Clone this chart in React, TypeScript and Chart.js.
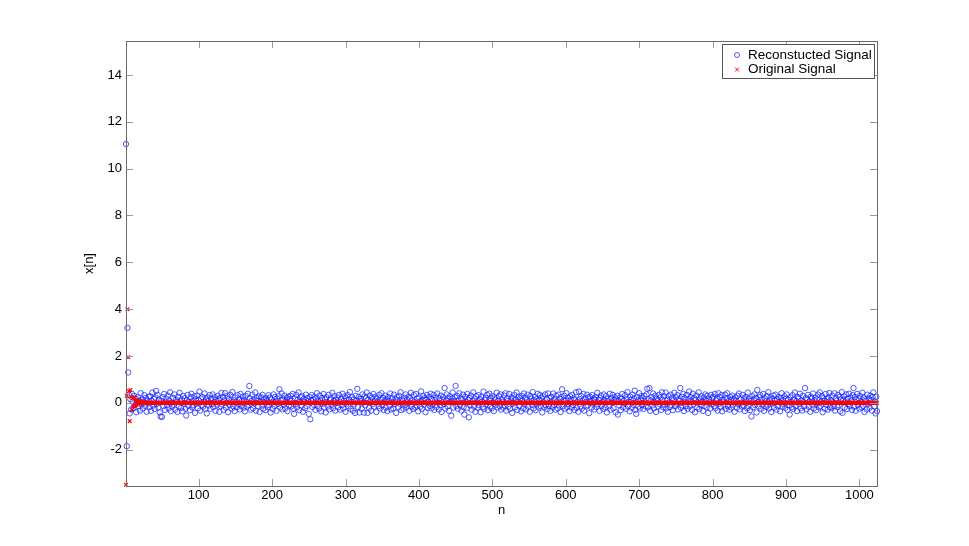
import React, { useEffect, useRef } from 'react';
import { Chart, registerables } from 'chart.js';

Chart.register(...registerables);

// n = 1 .. 1024
const reconstructedSignal: number[] = [
  11.05,-1.85,3.2,1.3,0.35,-0.45,0.15,-0.28,0.39,0.06,-0.23,0.3,-0.1,0.19,-0.4,0.03,0.25,-0.15,0.1,-0.33,0.41,-0.06,0.14,-0.24,0.05,0.33,-0.13,0.21,-0.38,0.11,-0.03,0.26,
  -0.18,0.28,-0.34,0.08,0.44,-0.11,0.16,-0.26,0.23,0.51,-0.05,0.34,-0.2,0.13,-0.41,-0.58,0.09,-0.6,0.24,-0.14,0.38,-0.3,0.04,0.18,-0.09,0.31,-0.24,0.1,0.45,-0.35,0.01,-0.16,
  0.21,-0.08,0.36,-0.29,0.13,0.03,-0.39,0.26,-0.15,0.43,0.06,-0.21,0.15,-0.36,0.29,-0.04,0.2,-0.25,-0.54,0.1,0.34,-0.13,0.05,-0.31,0.24,0.39,-0.19,0.08,-0.1,0.28,-0.43,0.16,
  -0.03,0.31,-0.23,0.11,0.48,-0.33,0.18,-0.09,0.25,-0.16,0.04,0.4,-0.26,0.14,-0.45,0.23,0.09,-0.11,0.33,-0.25,0.19,-0.05,0.36,-0.18,0.03,0.24,-0.34,0.13,-0.08,0.3,0.15,-0.38,
  0.2,-0.14,0.42,-0.06,0.25,-0.3,0.1,0.41,-0.2,0.01,0.29,-0.4,0.18,-0.1,0.34,0.06,-0.24,0.46,-0.15,0.11,-0.35,0.23,0.05,-0.19,0.33,-0.04,0.15,-0.28,0.38,-0.13,0.09,0.26,
  -0.21,0.13,-0.36,0.3,0.04,-0.16,0.39,-0.08,0.72,0.19,-0.29,0.08,0.35,-0.23,0.14,-0.03,0.44,-0.33,0.21,0.1,-0.15,0.28,-0.39,0.05,0.24,-0.11,0.34,-0.25,0.16,0.03,-0.31,0.2,
  0.11,-0.18,0.33,-0.09,0.23,-0.41,0.15,0.01,-0.26,0.36,-0.13,0.25,0.06,-0.34,0.18,-0.05,0.29,0.58,-0.2,0.1,0.4,-0.28,0.14,-0.08,0.31,-0.24,0.04,0.21,-0.35,0.26,-0.1,0.16,
  0.3,-0.15,0.09,0.38,-0.25,-0.47,0.19,-0.06,0.34,-0.19,0.13,0.45,-0.31,0.05,0.24,-0.11,0.28,-0.38,0.16,0.03,-0.23,0.35,-0.14,0.2,0.08,-0.47,0.25,-0.7,0.11,0.33,-0.18,0.14,
  -0.08,0.26,-0.3,0.18,0.41,-0.13,0.06,-0.24,0.31,0.1,-0.36,0.21,-0.04,0.38,-0.2,0.15,-0.41,0.24,0.03,-0.16,0.34,-0.28,0.11,0.19,-0.09,0.43,-0.23,0.08,0.29,-0.33,0.13,-0.01,
  0.23,-0.19,0.34,0.05,-0.29,0.16,-0.1,0.39,-0.24,0.09,0.28,-0.38,0.2,-0.03,0.33,-0.15,0.13,0.46,-0.26,0.04,0.24,-0.34,0.15,-0.06,-0.43,0.3,0.1,0.6,-0.18,0.25,-0.41,0.08,
  0.18,-0.25,0.36,0.01,-0.42,0.28,-0.11,0.2,0.44,-0.43,0.14,-0.21,0.31,0.06,-0.33,0.23,-0.05,0.38,-0.16,0.1,0.26,-0.39,0.18,0.03,-0.14,0.34,-0.24,0.13,0.41,-0.09,0.21,-0.3,
  0.05,0.31,-0.2,0.15,-0.35,0.25,0.09,-0.13,0.4,-0.28,0.19,0.04,-0.23,0.35,-0.06,0.16,-0.43,0.24,0.11,-0.18,0.3,-0.03,0.45,-0.31,0.14,0.08,-0.25,0.21,-0.1,0.36,-0.19,0.13,
  -0.04,0.26,-0.34,0.19,0.43,-0.15,0.1,-0.26,0.33,0.03,-0.2,0.38,-0.11,0.18,-0.36,0.23,0.06,-0.16,0.49,-0.25,0.13,0.29,-0.08,0.2,-0.4,0.15,0.34,-0.21,0.05,0.25,-0.13,0.39,
  -0.23,0.16,-0.06,0.34,-0.3,0.11,0.23,-0.18,0.4,0.01,-0.28,0.19,-0.1,0.31,-0.39,0.14,0.25,-0.05,0.63,-0.24,0.09,0.36,-0.15,0.2,-0.34,0.28,0.04,-0.55,0.18,0.44,-0.2,0.08,
  0.24,0.72,-0.14,0.3,-0.25,0.1,0.41,-0.09,0.19,-0.33,0.15,0.35,-0.19,-0.5,0.26,0.05,-0.23,0.38,0.13,-0.62,0.21,-0.11,0.31,-0.29,0.08,0.45,-0.16,0.18,-0.38,0.28,0.03,-0.21,
  0.33,-0.1,0.16,-0.4,0.25,0.06,-0.18,0.48,-0.26,0.13,0.21,-0.05,0.34,-0.31,0.1,0.39,-0.15,0.19,-0.24,0.29,0.01,-0.35,0.23,0.14,-0.08,0.43,-0.2,0.09,0.28,-0.14,0.36,-0.29,
  0.15,0.04,-0.21,0.31,-0.11,0.41,-0.33,0.18,0.08,-0.16,0.38,-0.25,0.11,0.24,-0.43,0.2,-0.03,0.34,-0.19,0.14,0.44,-0.3,0.05,0.26,-0.13,0.19,-0.36,0.3,0.1,-0.23,0.4,-0.06,
  0.23,-0.28,0.13,0.35,-0.16,0.06,-0.38,0.29,0.18,-0.09,0.46,-0.24,0.11,0.25,-0.31,0.15,-0.04,0.39,-0.2,0.09,0.33,-0.14,0.21,-0.41,0.28,0.03,-0.18,0.36,-0.1,0.16,-0.26,0.4,
  -0.13,0.2,-0.34,0.26,0.08,-0.19,0.4,-0.08,0.15,-0.29,0.31,0.04,-0.23,0.35,-0.11,0.18,-0.39,0.24,0.58,-0.15,0.13,0.3,-0.25,0.09,0.41,-0.18,0.21,-0.05,-0.35,0.28,0.14,-0.2,
  0.34,-0.09,0.19,-0.3,0.11,0.45,-0.21,0.05,-0.38,0.48,0.16,-0.14,0.29,-0.24,0.08,0.38,-0.33,0.15,0.03,-0.16,0.35,-0.1,0.23,-0.44,0.26,0.09,-0.2,0.33,-0.03,0.18,-0.28,0.13,
  0.25,-0.18,0.43,-0.06,0.14,-0.34,0.21,0.31,-0.13,0.04,-0.26,0.36,0.1,-0.2,0.28,-0.41,0.16,0.06,-0.15,0.39,-0.29,0.2,0.01,0.34,-0.23,0.11,0.24,-0.4,0.15,0.3,-0.5,0.08,
  -0.11,0.23,-0.31,0.16,0.38,-0.19,0.09,-0.03,0.33,-0.25,0.18,0.46,-0.14,0.05,-0.36,0.26,0.13,-0.21,0.35,-0.08,0.19,0.52,-0.3,-0.47,0.24,0.1,-0.16,0.41,-0.24,0.14,0.29,-0.1,
  0.2,-0.26,0.3,0.06,-0.15,0.36,0.6,-0.2,0.15,0.63,-0.34,0.1,0.25,-0.11,0.4,-0.23,0.04,0.31,-0.39,0.18,0.09,-0.16,0.34,-0.05,0.23,-0.3,0.45,0.13,-0.19,0.28,-0.08,0.44,
  -0.24,0.14,-0.38,0.29,0.03,-0.18,0.35,-0.09,0.21,-0.31,0.11,0.43,-0.15,0.24,-0.04,0.33,-0.28,0.16,0.08,0.63,-0.21,0.26,-0.11,0.38,-0.35,0.19,0.05,-0.14,0.34,-0.25,0.15,0.48,
  -0.16,0.25,0.09,-0.3,0.39,-0.06,0.2,-0.4,0.13,0.31,-0.2,0.03,0.45,-0.26,0.18,-0.1,0.28,0.06,-0.34,0.23,-0.13,0.36,0.11,-0.19,0.3,-0.43,0.15,0.04,-0.24,0.34,-0.05,0.2,
  0.26,-0.14,0.38,-0.23,0.1,0.18,-0.33,0.41,-0.03,0.24,-0.18,0.33,-0.36,0.13,0.05,-0.11,0.35,-0.25,0.19,0.41,-0.15,0.08,-0.29,0.25,0.14,-0.2,0.31,-0.08,0.16,-0.38,0.23,0.09,
  -0.21,0.3,-0.05,0.4,-0.28,0.15,0.01,-0.16,0.34,-0.1,0.2,-0.35,0.25,0.11,-0.23,0.44,-0.13,0.18,-0.31,0.08,-0.58,0.28,-0.19,0.13,0.36,-0.09,0.21,-0.41,0.55,0.04,-0.15,0.24,
  0.33,-0.25,0.14,-0.08,0.38,-0.34,0.19,0.06,-0.18,0.29,-0.11,0.46,-0.24,0.1,0.23,-0.39,0.16,-0.03,0.31,-0.2,0.09,0.35,-0.29,0.15,-0.14,0.25,0.05,-0.36,0.2,0.41,-0.16,0.11,
  -0.06,0.28,-0.21,0.18,0.36,-0.3,0.13,-0.1,-0.5,0.24,0.04,-0.19,0.33,-0.26,0.15,0.44,-0.13,0.08,-0.35,0.25,0.19,-0.05,0.39,-0.23,0.11,-0.33,0.3,0.03,-0.15,0.63,0.21,-0.28,
  0.14,0.34,-0.16,0.06,-0.38,0.26,0.18,-0.09,0.4,-0.24,0.1,0.23,-0.31,0.15,-0.03,0.35,-0.19,0.45,-0.13,0.05,0.29,-0.4,0.2,0.09,-0.25,0.38,-0.08,0.16,-0.29,0.24,0.42,-0.18,
  0.11,-0.23,0.31,0.03,-0.14,0.41,-0.33,0.19,0.08,-0.18,0.34,-0.1,0.25,-0.36,0.15,0.46,-0.43,0.13,0.28,-0.2,0.05,0.36,-0.26,0.18,-0.06,0.39,-0.15,0.23,0.1,-0.3,0.33,0.63,
  -0.16,0.25,-0.34,0.14,0.38,-0.09,0.2,-0.25,0.3,0.04,-0.19,0.43,-0.13,0.23,-0.39,0.15,0.09,-0.28,0.35,-0.05,0.19,-0.21,0.31,0.11,-0.33,0.25,0.45,-0.15,0.06,-0.45,0.26,-0.35,
];

// n = 1 .. 1024
const originalSignal: number[] = [
  -3.5,0.3,4.0,1.95,0.5,-0.78,0.55,0.25,-0.3,0.2,-0.15,0.22,-0.1,0.12,-0.08,0.1,0.05,-0.06,0.08,0.04,-0.04,0.05,0.03,-0.02,0.02,0.01,-0.01,0,0,0,0,0,
  0,0,0,0,0,0,0,0,0,0,0,0,0,0,0,0,0,0,0,0,0,0,0,0,0,0,0,0,0,0,0,0,
  0,0,0,0,0,0,0,0,0,0,0,0,0,0,0,0,0,0,0,0,0,0,0,0,0,0,0,0,0,0,0,0,
  0,0,0,0,0,0,0,0,0,0,0,0,0,0,0,0,0,0,0,0,0,0,0,0,0,0,0,0,0,0,0,0,
  0,0,0,0,0,0,0,0,0,0,0,0,0,0,0,0,0,0,0,0,0,0,0,0,0,0,0,0,0,0,0,0,
  0,0,0,0,0,0,0,0,0,0,0,0,0,0,0,0,0,0,0,0,0,0,0,0,0,0,0,0,0,0,0,0,
  0,0,0,0,0,0,0,0,0,0,0,0,0,0,0,0,0,0,0,0,0,0,0,0,0,0,0,0,0,0,0,0,
  0,0,0,0,0,0,0,0,0,0,0,0,0,0,0,0,0,0,0,0,0,0,0,0,0,0,0,0,0,0,0,0,
  0,0,0,0,0,0,0,0,0,0,0,0,0,0,0,0,0,0,0,0,0,0,0,0,0,0,0,0,0,0,0,0,
  0,0,0,0,0,0,0,0,0,0,0,0,0,0,0,0,0,0,0,0,0,0,0,0,0,0,0,0,0,0,0,0,
  0,0,0,0,0,0,0,0,0,0,0,0,0,0,0,0,0,0,0,0,0,0,0,0,0,0,0,0,0,0,0,0,
  0,0,0,0,0,0,0,0,0,0,0,0,0,0,0,0,0,0,0,0,0,0,0,0,0,0,0,0,0,0,0,0,
  0,0,0,0,0,0,0,0,0,0,0,0,0,0,0,0,0,0,0,0,0,0,0,0,0,0,0,0,0,0,0,0,
  0,0,0,0,0,0,0,0,0,0,0,0,0,0,0,0,0,0,0,0,0,0,0,0,0,0,0,0,0,0,0,0,
  0,0,0,0,0,0,0,0,0,0,0,0,0,0,0,0,0,0,0,0,0,0,0,0,0,0,0,0,0,0,0,0,
  0,0,0,0,0,0,0,0,0,0,0,0,0,0,0,0,0,0,0,0,0,0,0,0,0,0,0,0,0,0,0,0,
  0,0,0,0,0,0,0,0,0,0,0,0,0,0,0,0,0,0,0,0,0,0,0,0,0,0,0,0,0,0,0,0,
  0,0,0,0,0,0,0,0,0,0,0,0,0,0,0,0,0,0,0,0,0,0,0,0,0,0,0,0,0,0,0,0,
  0,0,0,0,0,0,0,0,0,0,0,0,0,0,0,0,0,0,0,0,0,0,0,0,0,0,0,0,0,0,0,0,
  0,0,0,0,0,0,0,0,0,0,0,0,0,0,0,0,0,0,0,0,0,0,0,0,0,0,0,0,0,0,0,0,
  0,0,0,0,0,0,0,0,0,0,0,0,0,0,0,0,0,0,0,0,0,0,0,0,0,0,0,0,0,0,0,0,
  0,0,0,0,0,0,0,0,0,0,0,0,0,0,0,0,0,0,0,0,0,0,0,0,0,0,0,0,0,0,0,0,
  0,0,0,0,0,0,0,0,0,0,0,0,0,0,0,0,0,0,0,0,0,0,0,0,0,0,0,0,0,0,0,0,
  0,0,0,0,0,0,0,0,0,0,0,0,0,0,0,0,0,0,0,0,0,0,0,0,0,0,0,0,0,0,0,0,
  0,0,0,0,0,0,0,0,0,0,0,0,0,0,0,0,0,0,0,0,0,0,0,0,0,0,0,0,0,0,0,0,
  0,0,0,0,0,0,0,0,0,0,0,0,0,0,0,0,0,0,0,0,0,0,0,0,0,0,0,0,0,0,0,0,
  0,0,0,0,0,0,0,0,0,0,0,0,0,0,0,0,0,0,0,0,0,0,0,0,0,0,0,0,0,0,0,0,
  0,0,0,0,0,0,0,0,0,0,0,0,0,0,0,0,0,0,0,0,0,0,0,0,0,0,0,0,0,0,0,0,
  0,0,0,0,0,0,0,0,0,0,0,0,0,0,0,0,0,0,0,0,0,0,0,0,0,0,0,0,0,0,0,0,
  0,0,0,0,0,0,0,0,0,0,0,0,0,0,0,0,0,0,0,0,0,0,0,0,0,0,0,0,0,0,0,0,
  0,0,0,0,0,0,0,0,0,0,0,0,0,0,0,0,0,0,0,0,0,0,0,0,0,0,0,0,0,0,0,0,
  0,0,0,0,0,0,0,0,0,0,0,0,0,0,0,0,0,0,0,0,0,0,0,0,0,0,0,0,0,0,0,0,
];

const seriesLabels = ['Reconstucted Signal', 'Original Signal'];
const xTickValues = [100, 200, 300, 400, 500, 600, 700, 800, 900, 1000];
const yTickValues = [-2, 0, 2, 4, 6, 8, 10, 12, 14];
const xRange = [1, 1024];
const yRange = [-3.55, 15.45];
const xTitle = 'n';
const yTitle = 'x[n]';

const FONT = '"Liberation Sans", Arial, Helvetica, sans-serif';
const BLUE = 'rgba(20, 40, 255, 0.85)';
const RED = 'rgb(255, 0, 0)';

const framePlugin = {
  id: 'matlabFrame',
  afterDatasetsDraw(chart: any) {
    const { ctx, chartArea: a, scales } = chart;
    const xs = scales.x;
    const ys = scales.y;
    ctx.save();
    ctx.strokeStyle = '#9a9a9a';
    ctx.lineWidth = 1;
    ctx.beginPath();
    for (const v of xTickValues) {
      const px = Math.round(xs.getPixelForValue(v)) + 0.5;
      ctx.moveTo(px, a.bottom);
      ctx.lineTo(px, a.bottom - 7);
      ctx.moveTo(px, a.top);
      ctx.lineTo(px, a.top + 7);
    }
    for (const v of yTickValues) {
      const py = Math.round(ys.getPixelForValue(v)) + 0.5;
      ctx.moveTo(a.left, py);
      ctx.lineTo(a.left + 7, py);
      ctx.moveTo(a.right, py);
      ctx.lineTo(a.right - 7, py);
    }
    ctx.stroke();
    ctx.strokeStyle = '#6a6a6a';
    ctx.strokeRect(Math.round(a.left) + 0.5, Math.round(a.top) + 0.5, Math.round(a.right - a.left), Math.round(a.bottom - a.top));
    ctx.restore();
  },
  afterDraw(chart: any) {
    const { ctx, chartArea: a } = chart;
    const w = 152;
    const h = 34;
    const left = Math.round(a.right) - 3 - w;
    const top = Math.round(a.top) + 3;
    ctx.save();
    ctx.fillStyle = '#ffffff';
    ctx.fillRect(left, top, w, h);
    ctx.strokeStyle = '#555555';
    ctx.lineWidth = 1;
    ctx.strokeRect(left + 0.5, top + 0.5, w, h);
    const rowY = [top + 11, top + 25.5];
    const mx = left + 15;
    ctx.strokeStyle = BLUE;
    ctx.lineWidth = 0.9;
    ctx.beginPath();
    ctx.arc(mx, rowY[0], 2.5, 0, Math.PI * 2);
    ctx.stroke();
    ctx.strokeStyle = RED;
    ctx.lineWidth = 1;
    ctx.beginPath();
    ctx.moveTo(mx - 2, rowY[1] - 2);
    ctx.lineTo(mx + 2, rowY[1] + 2);
    ctx.moveTo(mx + 2, rowY[1] - 2);
    ctx.lineTo(mx - 2, rowY[1] + 2);
    ctx.stroke();
    ctx.fillStyle = '#000000';
    ctx.font = '13.5px ' + FONT;
    ctx.textBaseline = 'middle';
    ctx.textAlign = 'left';
    ctx.fillText(seriesLabels[0], left + 26, rowY[0]);
    ctx.fillText(seriesLabels[1], left + 26, rowY[1]);
    ctx.restore();
  },
};

export default function App() {
  const canvasRef = useRef<HTMLCanvasElement | null>(null);

  useEffect(() => {
    const canvas = canvasRef.current;
    if (!canvas) return;
    const n = reconstructedSignal.map((_, i) => i + 1);
    const chart = new Chart(canvas, {
      type: 'scatter',
      data: {
        datasets: [
          {
            label: seriesLabels[0],
            data: n.map((x, i) => ({ x, y: reconstructedSignal[i] })),
            pointStyle: 'circle',
            pointRadius: 2.7,
            pointBorderWidth: 0.9,
            borderColor: BLUE,
            backgroundColor: 'rgba(0,0,0,0)',
            pointBackgroundColor: 'rgba(0,0,0,0)',
            showLine: false,
            clip: false,
            order: 1,
          },
          {
            label: seriesLabels[1],
            data: n.map((x, i) => ({ x, y: originalSignal[i] })),
            pointStyle: 'crossRot',
            pointRadius: 2.6,
            pointBorderWidth: 1.2,
            borderColor: RED,
            backgroundColor: RED,
            showLine: false,
            clip: false,
            order: 0,
          },
        ],
      },
      options: {
        responsive: false,
        animation: false,
        devicePixelRatio: 1,
        events: [],
        layout: { padding: { left: 0, right: 92, top: 41, bottom: 0 } },
        plugins: {
          legend: { display: false },
          tooltip: { enabled: false },
        },
        scales: {
          x: {
            type: 'linear',
            position: 'bottom',
            min: xRange[0],
            max: xRange[1],
            grid: { display: false, drawTicks: false, tickLength: 0 },
            border: { display: false },
            afterBuildTicks: (scale: any) => {
              scale.ticks = xTickValues.map((v) => ({ value: v }));
            },
            afterFit: (scale: any) => {
              scale.height = 60;
            },
            ticks: {
              autoSkip: false,
              maxRotation: 0,
              padding: 2,
              color: '#000000',
              font: { family: FONT, size: 13 },
              callback: (v: any) => String(v),
            },
            title: {
              display: true,
              text: xTitle,
              color: '#000000',
              font: { family: FONT, size: 13 },
              padding: { top: 0, bottom: 28 },
            },
          },
          y: {
            type: 'linear',
            min: yRange[0],
            max: yRange[1],
            grid: { display: false, drawTicks: false, tickLength: 0 },
            border: { display: false },
            afterBuildTicks: (scale: any) => {
              scale.ticks = yTickValues.map((v) => ({ value: v }));
            },
            afterFit: (scale: any) => {
              scale.width = 126;
            },
            ticks: {
              autoSkip: false,
              padding: 4,
              color: '#000000',
              font: { family: FONT, size: 13 },
              callback: (v: any) => String(v),
            },
            title: {
              display: true,
              text: yTitle,
              color: '#000000',
              font: { family: FONT, size: 13 },
              padding: { top: 82, bottom: 0 },
            },
          },
        },
      },
      plugins: [framePlugin],
    });
    return () => chart.destroy();
  }, []);

  return (
    <div style={{ position: 'fixed', left: 0, top: 0, width: 969, height: 546, background: '#ffffff' }}>
      <canvas ref={canvasRef} width={969} height={546} style={{ display: 'block' }} />
    </div>
  );
}
